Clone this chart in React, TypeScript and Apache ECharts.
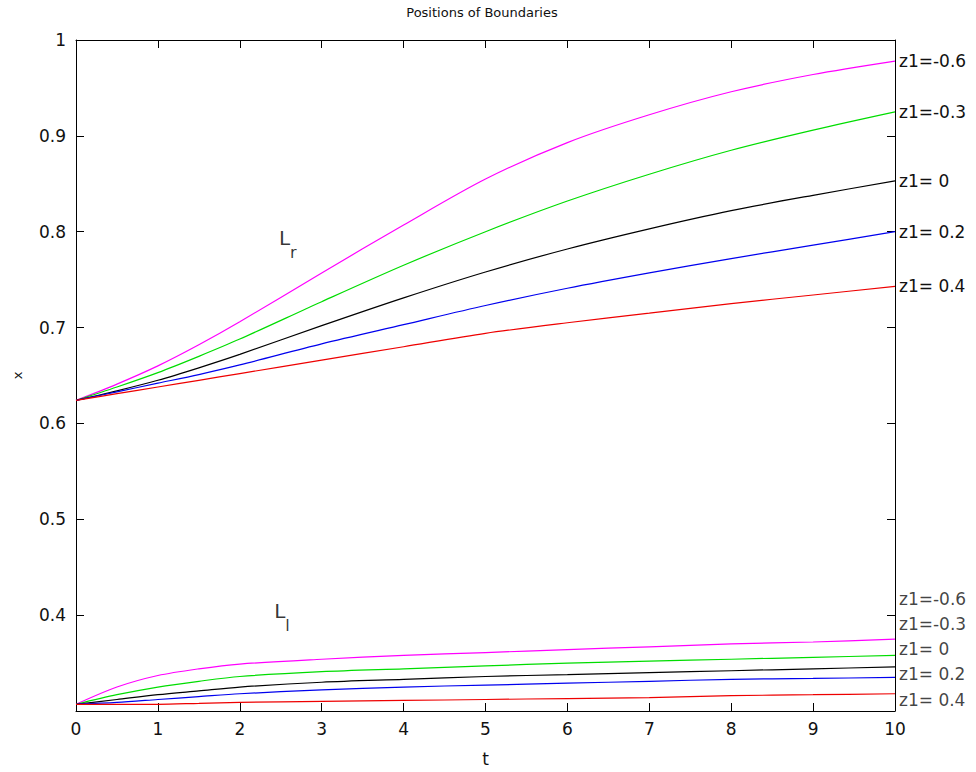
import React, { useEffect, useRef } from "react";
import * as echarts from "echarts";

// time samples (t)
const tValues = [0, 0.5, 1, 1.5, 2, 3, 4, 5, 6, 7, 8, 9, 10];

// series names / labels
const z1Labels = ["z1=-0.6", "z1=-0.3", "z1= 0", "z1= 0.2", "z1= 0.4"];
const lineColors = ["#ff00ff", "#00dd00", "#000000", "#0000ee", "#ee0000"];

// right boundary L_r (upper curves)
const lrM06 = [0.624, 0.641, 0.660, 0.682, 0.706, 0.757, 0.807, 0.855, 0.893, 0.922, 0.946, 0.964, 0.978];
const lrM03 = [0.624, 0.638, 0.653, 0.670, 0.688, 0.727, 0.765, 0.800, 0.832, 0.860, 0.885, 0.906, 0.925];
const lrZ0 = [0.624, 0.634, 0.645, 0.658, 0.672, 0.702, 0.731, 0.758, 0.782, 0.803, 0.822, 0.838, 0.853];
const lrP02 = [0.624, 0.633, 0.642, 0.651, 0.661, 0.683, 0.703, 0.723, 0.741, 0.757, 0.772, 0.786, 0.800];
const lrP04 = [0.624, 0.631, 0.638, 0.645, 0.652, 0.666, 0.680, 0.694, 0.705, 0.715, 0.725, 0.734, 0.743];

// left boundary L_l (lower curves)
const llM06 = [0.307, 0.325, 0.337, 0.344, 0.349, 0.354, 0.358, 0.361, 0.364, 0.367, 0.370, 0.372, 0.375];
const llM03 = [0.307, 0.317, 0.325, 0.331, 0.336, 0.341, 0.344, 0.347, 0.350, 0.352, 0.354, 0.356, 0.358];
const llZ0 = [0.307, 0.312, 0.317, 0.321, 0.325, 0.330, 0.333, 0.336, 0.338, 0.340, 0.342, 0.344, 0.346];
const llP02 = [0.307, 0.309, 0.312, 0.315, 0.318, 0.322, 0.325, 0.327, 0.329, 0.331, 0.333, 0.334, 0.335];
const llP04 = [0.307, 0.307, 0.307, 0.308, 0.309, 0.310, 0.311, 0.312, 0.313, 0.314, 0.316, 0.317, 0.318];

const upperSets = [lrM06, lrM03, lrZ0, lrP02, lrP04];
const lowerSets = [llM06, llM03, llZ0, llP02, llP04];

// text annotations for the lower group (placed at t = 10)
const lowerLabelT = 10;
const lowerLabelX = [0.4167, 0.3908, 0.3648, 0.3382, 0.3112];

// boundary name annotations
const boundaryNames = [
  { t: 2.48, x: 0.787, main: "L", sub: "r" },
  { t: 2.42, x: 0.398, main: "L", sub: "l" },
];

// axis setup
const tMin = 0, tMax = 10, tStep = 1;
const xMin = 0.3, xMax = 1, xStep = 0.1;

const FONT = "DejaVu Sans";

export default function App() {
  const ref = useRef<HTMLDivElement>(null);
  useEffect(() => {
    if (!ref.current) return;
    const chart = echarts.init(ref.current, undefined, { renderer: "svg" });
    const pair = (arr: number[]) => tValues.map((t, i) => [t, arr[i]]);
    const series: any[] = [];
    upperSets.forEach((arr, i) => {
      series.push({
        type: "line",
        name: z1Labels[i],
        data: pair(arr),
        showSymbol: false,
        smooth: 0.3,
        lineStyle: { color: lineColors[i], width: 1.2 },
        itemStyle: { color: lineColors[i] },
        endLabel: {
          show: true,
          formatter: z1Labels[i],
          color: "#111",
          fontFamily: FONT,
          fontSize: 17,
          distance: 4,
        },
        z: 3,
      });
    });
    lowerSets.forEach((arr, i) => {
      series.push({
        type: "line",
        name: z1Labels[i] + " ",
        data: pair(arr),
        showSymbol: false,
        smooth: 0.3,
        lineStyle: { color: lineColors[i], width: 1.2 },
        itemStyle: { color: lineColors[i] },
        z: 3,
      });
    });
    series.push({
      type: "scatter",
      symbolSize: 0,
      data: lowerLabelX.map((x, i) => ({ value: [lowerLabelT, x], name: z1Labels[i] })),
      label: {
        show: true,
        position: "right",
        distance: 4,
        formatter: (p: any) => p.name,
        color: "#111",
        fontFamily: FONT,
        fontSize: 17,
      },
      silent: true,
    });
    series.push({
      type: "scatter",
      symbolSize: 0,
      data: boundaryNames.map((b) => ({ value: [b.t, b.x], name: b.main, sub: b.sub })),
      label: {
        show: true,
        position: "right",
        distance: 0,
        align: "left",
        formatter: (p: any) => `{L|${p.data.name}}\n{s|${p.data.sub}}`,
        rich: {
          L: { fontSize: 20, fontFamily: FONT, color: "#000", lineHeight: 16 },
          s: {
            fontSize: 16,
            fontFamily: FONT,
            color: "#000",
            lineHeight: 12,
            padding: [0, 0, 0, 11],
          },
        },
      },
      silent: true,
    });

    const tickCommon = { show: true, inside: true, length: 8, lineStyle: { color: "#000", width: 1 } };
    const lineCommon = { show: true, onZero: false, lineStyle: { color: "#000", width: 1 } };

    chart.setOption({
      animation: false,
      backgroundColor: "#fff",
      title: {
        text: "Positions of Boundaries",
        left: 477,
        top: 1,
        textAlign: "center",
        textStyle: { fontFamily: FONT, fontSize: 13, fontWeight: "normal", color: "#111" },
      },
      grid: { left: 76, right: 81, top: 40, bottom: 58, containLabel: false },
      xAxis: [
        {
          type: "value",
          min: tMin,
          max: tMax,
          interval: tStep,
          name: "t",
          nameLocation: "middle",
          nameGap: 39,
          nameTextStyle: { fontFamily: FONT, fontSize: 17, color: "#111" },
          axisLine: lineCommon,
          axisTick: tickCommon,
          axisLabel: { fontFamily: FONT, fontSize: 17, color: "#111", margin: 9 },
          splitLine: { show: false },
        },
        {
          type: "value",
          position: "top",
          min: tMin,
          max: tMax,
          interval: tStep,
          axisLine: lineCommon,
          axisTick: tickCommon,
          axisLabel: { show: false },
          splitLine: { show: false },
        },
      ],
      yAxis: [
        {
          type: "value",
          min: xMin,
          max: xMax,
          interval: xStep,
          name: "x",
          nameLocation: "middle",
          nameGap: 52,
          nameRotate: 90,
          nameTextStyle: { fontFamily: FONT, fontSize: 13, color: "#111" },
          axisLine: lineCommon,
          axisTick: tickCommon,
          axisLabel: {
            fontFamily: FONT,
            fontSize: 17,
            color: "#111",
            margin: 10,
            formatter: (v: number) => (Math.abs(v - xMin) < 1e-9 ? "" : String(Math.round(v * 10) / 10)),
          },
          splitLine: { show: false },
        },
        {
          type: "value",
          position: "right",
          min: xMin,
          max: xMax,
          interval: xStep,
          axisLine: lineCommon,
          axisTick: tickCommon,
          axisLabel: { show: false },
          splitLine: { show: false },
        },
      ],
      series,
    });
    return () => chart.dispose();
  }, []);
  return (
    <div
      ref={ref}
      style={{ position: "absolute", left: 0, top: 0, width: 976, height: 772 }}
    />
  );
}
